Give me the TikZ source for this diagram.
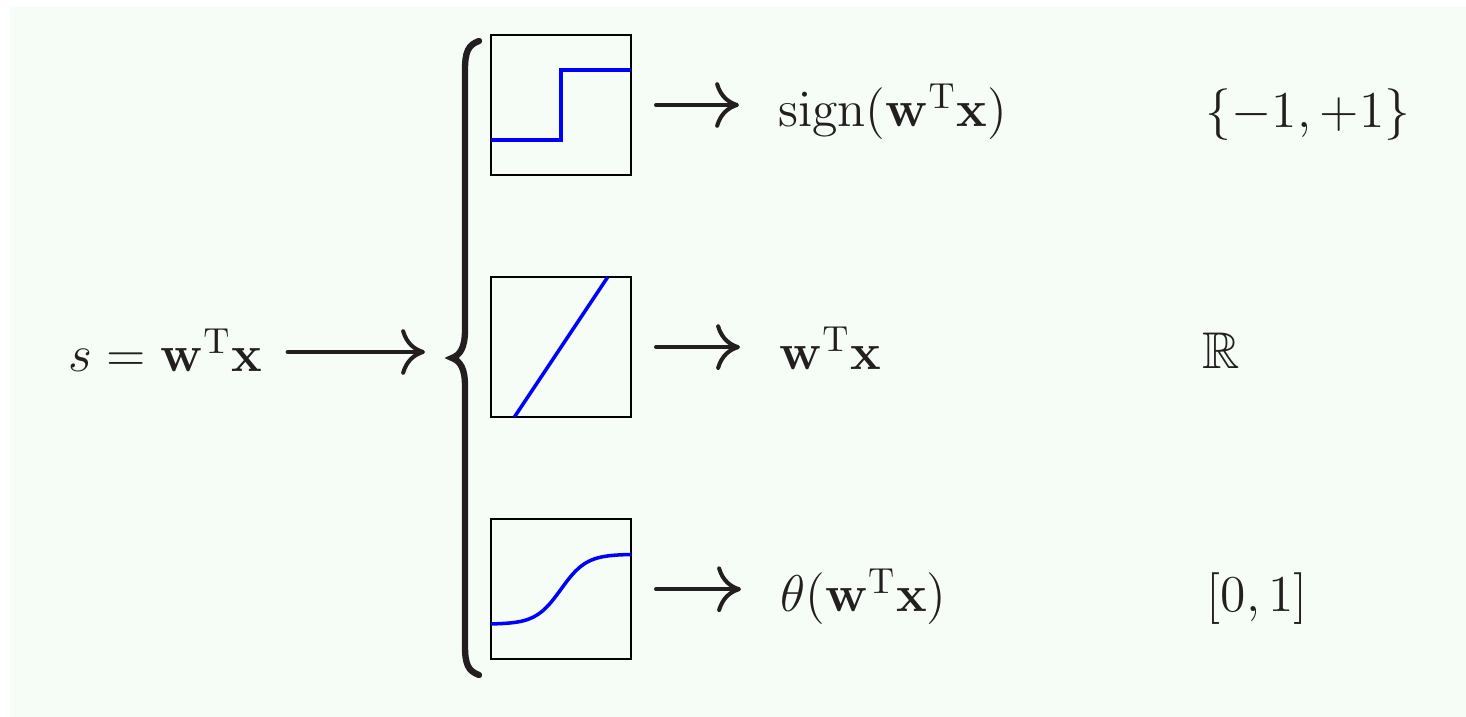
\RequirePackage{fix-cm}
\documentclass[tikz,border=0pt]{standalone}
\usepackage{amsmath,amssymb}
\usetikzlibrary{arrows.meta, positioning}
\definecolor{bgmint}{RGB}{246,253,246}
\definecolor{ink}{RGB}{35,31,32}
\newcommand{\wx}{\mathbf{w}^{\mathrm{T}}\mathbf{x}}

\begin{document}
\begin{tikzpicture}[
  node distance=1.0cm,
  txt/.style={inner sep=0pt, anchor=base west, text=ink, font=\fontsize{14.7}{17.6}\selectfont},
  plotbox/.style={rectangle, draw=black, line width=0.6pt, minimum size=1.4cm, inner sep=0pt},
  curve/.style={blue, line width=1pt},
  arr/.style={-{Computer Modern Rightarrow[length=6.8pt, width=13pt]}, ink, line width=1.15pt, line cap=round},
  brace/.style={ink, line width=1.8pt, line cap=round},
]
\useasboundingbox (0,0) rectangle (14.66,-7.17);
\fill[bgmint] (0.10,-0.07) rectangle (14.66,-7.17);

% input score
\node[txt] (score) at (0.68,-3.72) {$s=\wx$};

% the three activation plots
\node[plotbox] (stepplot) at (5.61,-1.05) {};
\node[plotbox, below=of stepplot] (linplot) {};
\node[plotbox, below=of linplot]  (sigplot) {};

\begin{scope}[shift={(stepplot.center)}, x=0.7cm, y=0.7cm]
  \draw[curve] (-1,-0.5) -- (0,-0.5) -- (0,0.5) -- (1,0.5);
\end{scope}
\begin{scope}[shift={(linplot.center)}, x=0.7cm, y=0.7cm]
  \draw[curve] (-2/3,-1) -- (2/3,1);
\end{scope}
\begin{scope}[shift={(sigplot.center)}, x=0.7cm, y=0.7cm]
  \draw[curve] plot[domain=-1:1, samples=80, smooth] (\x, {0.5*tanh(2.75*\x)});
\end{scope}

% brace
\draw[brace] (4.79,-0.41) .. controls (4.68,-0.45) and (4.65,-0.52) .. (4.65,-0.70)
  -- (4.65,-3.30) .. controls (4.65,-3.48) and (4.60,-3.55) .. (4.52,-3.58)
  .. controls (4.60,-3.61) and (4.65,-3.68) .. (4.65,-3.86)
  -- (4.65,-6.46) .. controls (4.65,-6.64) and (4.68,-6.71) .. (4.79,-6.75);
\coordinate (bracetip) at (4.25,-3.52);

% outputs
\node[txt] (signlbl) at (7.78,-1.27) {$\operatorname{sign}(\wx)$};
\node[txt] (linlbl)  at (7.79,-3.70) {$\wx$};
\node[txt] (siglbl)  at (7.80,-6.12) {$\theta(\wx)$};

% ranges
\node[txt] (signrng) at (12.05,-1.28) {$\{-1,+1\}$};
\node[txt] (linrng)  at (12.02,-3.69) {$\mathbb{R}$};
\node[txt] (sigrng)  at (12.06,-6.12) {$[0,1]$};

% arrows
\draw[arr, shorten <=0.25cm] (score.east |- bracetip) -- (bracetip);
\foreach \p/\l in {stepplot/signlbl, linplot/linlbl, sigplot/siglbl}
  \draw[arr, shorten <=0.24cm, shorten >=0.39cm] (\p.east) -- (\p.east -| \l.west);
\end{tikzpicture}
\end{document}
